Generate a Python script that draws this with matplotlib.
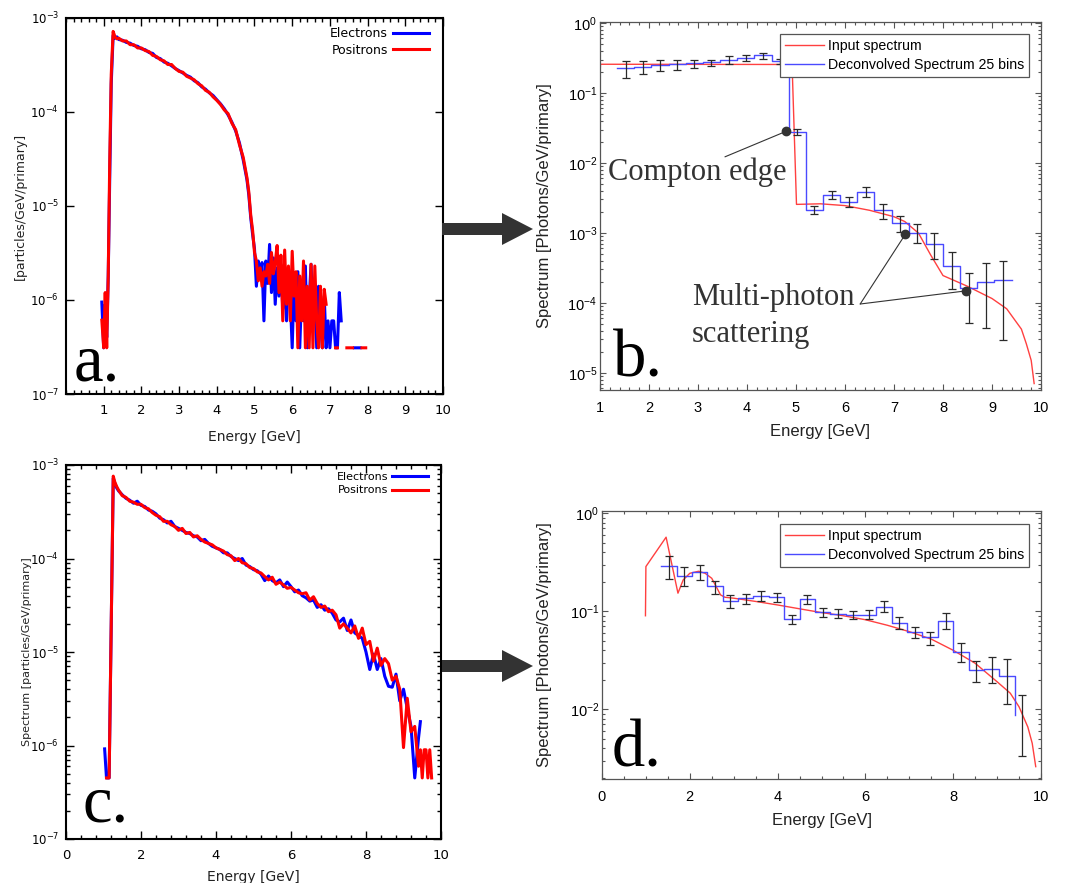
import matplotlib.pyplot as plt
import numpy as np
from matplotlib.patches import FancyArrow
from matplotlib.ticker import LogLocator, MultipleLocator, NullFormatter, NullLocator

nan = np.nan

# ---------------- a. e-/e+ spectra (first case)
a_energy = [0.95, 1.00, 1.04, 1.08, 1.12, 1.16, 1.20, 1.25, 1.30, 1.35,
            1.40, 1.5, 1.6, 1.7, 1.8, 1.9, 2.0, 2.1, 2.2, 2.3,
            2.4, 2.5, 2.6, 2.7, 2.8, 2.9, 3.0, 3.1, 3.2, 3.3,
            3.4, 3.5, 3.6, 3.7, 3.8, 3.9, 4.0, 4.1, 4.2, 4.3,
            4.4, 4.5, 4.6, 4.7, 4.8, 4.85, 4.9, 4.95, 5.00, 5.05,
            5.10, 5.15, 5.20, 5.25, 5.30, 5.35, 5.40, 5.45, 5.50, 5.55,
            5.60, 5.65, 5.70, 5.75, 5.80, 5.85, 5.90, 5.95, 6.00, 6.05,
            6.10, 6.15, 6.20, 6.25, 6.30, 6.35, 6.40, 6.45, 6.50, 6.55,
            6.60, 6.65, 6.70, 6.75, 6.80, 6.85, 6.90, 6.95, 7.00, 7.05,
            7.10, 7.15, 7.20, 7.25, 7.30, 7.35, 7.40, 7.45, 7.50, 7.55,
            7.60, 7.65, 7.70, 7.75, 7.80, 7.85, 7.90, 7.95]
a_electrons = [9.5e-7, 3.1e-7, 9.0e-7, 4.0e-7, 1.8e-6, 2.0e-5, 2.0e-4, 6.5e-4, 6.1e-4, 6.3e-4,
               5.9e-4, 5.8e-4, 5.5e-4, 5.4e-4, 5.1e-4, 5.0e-4, 4.7e-4, 4.6e-4, 4.3e-4, 4.2e-4,
               3.8e-4, 3.7e-4, 3.4e-4, 3.3e-4, 3.1e-4, 2.9e-4, 2.75e-4, 2.6e-4, 2.45e-4, 2.35e-4,
               2.15e-4, 2.05e-4, 1.85e-4, 1.75e-4, 1.6e-4, 1.5e-4, 1.35e-4, 1.22e-4, 1.08e-4, 9.3e-5,
               7.8e-5, 6.3e-5, 4.7e-5, 3.1e-5, 1.9e-5, 1.3e-5, 7.5e-6, 5.0e-6, 3.5e-6, 1.4e-6,
               2.6e-6, 1.8e-6, 2.5e-6, 6e-7, 2.6e-6, 1.5e-6, 3.9e-6, 1.2e-6, 2.8e-6, 9e-7,
               2.2e-6, 1.1e-6, 2.4e-6, 8e-7, 1.8e-6, 6e-7, 2.0e-6, 1.0e-6, 3.1e-7, 1.6e-6,
               6e-7, 2.0e-6, 3.1e-7, 1.2e-6, 6e-7, 2.3e-6, 3.1e-7, 1.0e-6, 2.4e-6, 6e-7,
               1.2e-6, 3.1e-7, 1.4e-6, 6e-7, 3.1e-7, 1.1e-6, 3.1e-7, 6e-7, 3.1e-7, 6e-7,
               6e-7, 3.1e-7, 3.1e-7, 1.2e-6, 6e-7, nan, nan, nan, nan, nan,
               nan, 3.1e-7, 3.1e-7, 3.1e-7, 3.1e-7, nan, nan, nan]
a_positrons = [6.1e-7, 3.1e-7, 1.2e-6, 3.1e-7, 1.8e-6, 3.0e-5, 2.5e-4, 7.2e-4, 6.3e-4, 6.0e-4,
               6.1e-4, 5.7e-4, 5.7e-4, 5.2e-4, 5.2e-4, 4.8e-4, 4.8e-4, 4.5e-4, 4.4e-4, 4.0e-4,
               3.9e-4, 3.6e-4, 3.5e-4, 3.2e-4, 3.2e-4, 2.9e-4, 2.7e-4, 2.65e-4, 2.4e-4, 2.3e-4,
               2.2e-4, 2.0e-4, 1.9e-4, 1.7e-4, 1.62e-4, 1.45e-4, 1.33e-4, 1.2e-4, 1.05e-4, 9.6e-5,
               7.6e-5, 6.5e-5, 4.5e-5, 3.3e-5, 2.0e-5, 1.4e-5, 8.0e-6, 5.5e-6, 3.2e-6, 2.6e-6,
               1.6e-6, 2.2e-6, 1.4e-6, 2.0e-6, 1.8e-6, 2.4e-6, 1.5e-6, 3.2e-6, 1.9e-6, 2.5e-6,
               3.8e-6, 1.2e-6, 3.0e-6, 6e-7, 3.4e-6, 9e-7, 2.3e-6, 6e-7, 3.3e-6, 1.1e-6,
               2.0e-6, 3.1e-7, 1.8e-6, 6e-7, 2.6e-6, 3.1e-7, 1.4e-6, 3.1e-7, 2.4e-6, 3.1e-7,
               2.3e-6, 6e-7, 3.1e-7, 1.4e-6, 3.1e-7, 1.3e-6, 9e-7, nan, nan, nan,
               nan, 3.1e-7, 3.1e-7, nan, nan, nan, nan, 3.1e-7, 3.1e-7, 3.1e-7,
               3.1e-7, nan, nan, nan, nan, 3.1e-7, 3.1e-7, 3.1e-7]

# ---------------- c. e-/e+ spectra (second case)
c_energy = [1.03, 1.08, 1.15, 1.26, 1.30, 1.35, 1.40, 1.5, 1.6, 1.7,
            1.8, 1.9, 2.0, 2.1, 2.2, 2.3, 2.4, 2.5, 2.6, 2.7,
            2.8, 2.9, 3.0, 3.1, 3.2, 3.3, 3.4, 3.5, 3.6, 3.7,
            3.8, 3.9, 4.0, 4.1, 4.2, 4.3, 4.4, 4.5, 4.6, 4.7,
            4.8, 4.9, 5.0, 5.1, 5.2, 5.3, 5.4, 5.5, 5.6, 5.7,
            5.8, 5.9, 6.0, 6.1, 6.2, 6.3, 6.4, 6.5, 6.6, 6.7,
            6.8, 6.9, 7.0, 7.1, 7.2, 7.3, 7.4, 7.5, 7.6, 7.7,
            7.8, 7.9, 8.0, 8.1, 8.2, 8.3, 8.4, 8.5, 8.6, 8.7,
            8.8, 8.9, 9.0, 9.1, 9.2, 9.3, 9.4, 9.45, 9.5, 9.55,
            9.6, 9.65, 9.7, 9.75]
c_electrons = [9.2e-7, 4.5e-7, 4.5e-7, 7.2e-4, 6.4e-4, 5.7e-4, 5.3e-4, 4.8e-4, 4.4e-4, 4.2e-4,
               3.9e-4, 4.1e-4, 3.7e-4, 3.6e-4, 3.3e-4, 3.2e-4, 3.0e-4, 2.7e-4, 2.6e-4, 2.4e-4,
               2.5e-4, 2.2e-4, 2.1e-4, 2.0e-4, 1.9e-4, 1.85e-4, 1.75e-4, 1.7e-4, 1.55e-4, 1.6e-4,
               1.45e-4, 1.35e-4, 1.3e-4, 1.25e-4, 1.15e-4, 1.15e-4, 1.05e-4, 1.0e-4, 9.5e-5, 1.0e-4,
               8.5e-5, 8.2e-5, 7.6e-5, 7.4e-5, 6.8e-5, 5.8e-5, 6.5e-5, 5.8e-5, 5.5e-5, 5.9e-5,
               5.0e-5, 5.6e-5, 5.0e-5, 4.4e-5, 4.6e-5, 4.0e-5, 3.8e-5, 3.5e-5, 3.6e-5, 3.0e-5,
               3.2e-5, 2.8e-5, 2.9e-5, 2.6e-5, 2.2e-5, 2.1e-5, 2.3e-5, 1.7e-5, 2.2e-5, 1.6e-5,
               1.5e-5, 1.4e-5, 1.0e-5, 6.5e-6, 9.5e-6, 6.5e-6, 8.5e-6, 5.5e-6, 4.3e-6, 4.2e-6,
               5.8e-6, 3.0e-6, 4.0e-6, 2.5e-6, 1.6e-6, 4.5e-7, 1.2e-6, 1.8e-6, nan, nan,
               nan, nan, nan, nan]
c_positrons = [nan, 4.5e-7, 4.5e-7, 7.6e-4, 6.6e-4, 5.9e-4, 5.4e-4, 4.7e-4, 4.5e-4, 4.1e-4,
               4.0e-4, 3.8e-4, 3.8e-4, 3.5e-4, 3.4e-4, 3.1e-4, 2.9e-4, 2.8e-4, 2.5e-4, 2.5e-4,
               2.3e-4, 2.2e-4, 2.0e-4, 2.1e-4, 1.85e-4, 1.9e-4, 1.7e-4, 1.75e-4, 1.6e-4, 1.5e-4,
               1.45e-4, 1.4e-4, 1.3e-4, 1.25e-4, 1.2e-4, 1.1e-4, 1.07e-4, 9.5e-5, 1.0e-4, 9.0e-5,
               8.8e-5, 8.0e-5, 7.8e-5, 7.2e-5, 7.0e-5, 6.4e-5, 5.9e-5, 6.3e-5, 5.3e-5, 5.6e-5,
               5.2e-5, 4.8e-5, 4.9e-5, 4.6e-5, 4.3e-5, 4.2e-5, 4.3e-5, 3.6e-5, 3.9e-5, 3.3e-5,
               3.0e-5, 3.1e-5, 2.7e-5, 2.8e-5, 2.5e-5, 1.8e-5, 2.0e-5, 1.8e-5, 1.6e-5, 1.9e-5,
               1.4e-5, 1.8e-5, 1.2e-5, 1.3e-5, 8.0e-6, 1.1e-5, 7.2e-6, 8.5e-6, 7.5e-6, 5.0e-6,
               5.5e-6, 4.0e-6, 9.5e-7, 3.2e-6, 1.4e-6, 1.6e-6, 6e-7, 9e-7, 4.5e-7, 9e-7,
               9e-7, 4.5e-7, 9e-7, 4.5e-7]

# ---------------- b. photon spectrum, input vs deconvolved
bin_edges = np.linspace(1.35, 9.75, 25)   # 0.35 GeV bins
bin_centers = (bin_edges[:-1] + bin_edges[1:]) / 2

b_input_energy = [1.0, 1.01, 4.92, 5.01, 5.5, 6.0, 6.5, 7.0, 7.22, 7.5,
                  7.75, 8.0, 8.5, 9.0, 9.3, 9.6, 9.7, 9.8, 9.86]
b_input = [0.17, 0.257, 0.255, 2.55e-3, 2.6e-3, 2.45e-3, 2.1e-3, 1.7e-3, 1.45e-3, 9.9e-4,
           4.8e-4, 2.45e-4, 1.72e-4, 1.15e-4, 8.2e-5, 4.2e-5, 2.6e-5, 1.5e-5, 7e-6]
b_deconv = [0.23, 0.235, 0.254, 0.257, 0.268, 0.275, 0.30, 0.32, 0.345, 0.287,
            0.0277, 2.1e-3, 3.5e-3, 2.8e-3, 3.8e-3, 2.1e-3, 1.38e-3, 1.0e-3, 6.9e-4, 3.4e-4,
            1.6e-4, 2.0e-4, 2.1e-4]
b_err_high = [0.283, 0.283, 0.293, 0.293, 0.299, 0.299, 0.334, 0.353, 0.373, 0.309,
              0.0309, 2.4e-3, 4.0e-3, 3.27e-3, 4.54e-3, 2.62e-3, 1.75e-3, 1.33e-3, 9.8e-4, 5.25e-4,
              2.63e-4, 3.65e-4, 3.98e-4]
b_err_low = [0.166, 0.185, 0.206, 0.216, 0.230, 0.240, 0.257, 0.283, 0.309, 0.262,
             0.0248, 1.85e-3, 3.03e-3, 2.35e-3, 3.2e-3, 1.6e-3, 1.03e-3, 7.05e-4, 4.17e-4, 1.57e-4,
             5.2e-5, 4.4e-5, 2.9e-5]
b_marks_energy = [4.8, 7.23, 8.47]
b_marks = [0.0283, 9.5e-4, 1.48e-4]

# ---------------- d. photon spectrum, second case
d_input_energy = [0.99, 1.0, 1.46, 1.73, 1.85, 2.0, 2.2, 2.35, 2.5, 2.6,
                  2.7, 2.8, 3.0, 3.5, 4.0, 4.5, 5.0, 5.5, 6.0, 6.5,
                  7.0, 7.5, 8.0, 8.5, 9.0, 9.3, 9.5, 9.7, 9.8, 9.88]
d_input = [0.09, 0.286, 0.57, 0.153, 0.209, 0.244, 0.256, 0.244, 0.217, 0.179,
           0.147, 0.139, 0.136, 0.126, 0.116, 0.106, 0.097, 0.090, 0.082, 0.072,
           0.062, 0.052, 0.040, 0.0295, 0.0191, 0.0146, 0.0106, 0.0066, 0.0045, 0.0026]
d_deconv = [0.29, 0.231, 0.252, 0.179, 0.127, 0.136, 0.143, 0.139, 0.0835, 0.132,
            0.0993, 0.094, 0.0925, 0.0925, 0.1115, 0.0766, 0.0615, 0.0543, 0.0803, 0.0388,
            0.0252, 0.026, 0.0219]
d_deconv_end = 0.0087
d_bar_mid = d_deconv + [0.0069]
d_err_high = [0.367, 0.281, 0.297, 0.206, 0.145, 0.150, 0.161, 0.153, 0.0925, 0.146,
              0.107, 0.105, 0.1016, 0.103, 0.1265, 0.0875, 0.0698, 0.0615, 0.0955, 0.0471,
              0.0314, 0.034, 0.0327, 0.014]
d_err_low = [0.212, 0.181, 0.209, 0.150, 0.107, 0.119, 0.126, 0.123, 0.0743, 0.119,
             0.0883, 0.0855, 0.0841, 0.0828, 0.0984, 0.0665, 0.053, 0.045, 0.066, 0.0302,
             0.0192, 0.0184, 0.0113, 0.00337]

W, H = 1072, 883
fig = plt.figure(figsize=(W / 100, H / 100), dpi=100)


def axes_px(left, top, right, bottom):
    return fig.add_axes([left / W, 1 - bottom / H, (right - left) / W, (bottom - top) / H])


def sup_labels(exps):
    return [r'$\mathregular{10^{%d}}$' % e for e in exps]


GP = 'DejaVu Sans'
ML = 'Liberation Sans'
SERIF = 'Liberation Serif'


def gnuplot_style(ax, xticks, xlabels, xminor, ylabel, ylab_x, ylab_size, xlab_y, yminor):
    ax.set_yscale('log')
    ax.set_xlim(0, 10)
    ax.set_ylim(1e-7, 1e-3)
    ax.set_xticks(xticks, xlabels, fontsize=9.5, family=GP)
    ax.xaxis.set_minor_locator(MultipleLocator(xminor))
    ax.set_yticks([1e-7, 1e-6, 1e-5, 1e-4, 1e-3], sup_labels([-7, -6, -5, -4, -3]),
                  fontsize=8.5, family=GP)
    if yminor:
        ax.yaxis.set_minor_locator(LogLocator(subs=np.arange(2, 10)))
        ax.yaxis.set_minor_formatter(NullFormatter())
    else:
        ax.yaxis.set_minor_locator(NullLocator())
    ax.tick_params(which='both', direction='in', top=True, right=True, color='black')
    ax.tick_params(which='major', length=6, width=1)
    ax.tick_params(which='minor', length=3, width=1)
    ax.tick_params(axis='x', pad=7)
    ax.tick_params(axis='y', pad=5)
    for s in ax.spines.values():
        s.set_linewidth(1.5)
        s.set_color('black')
    ax.set_xlabel('Energy [GeV]', fontsize=10, family=GP, color='#222222')
    ax.xaxis.set_label_coords(0.5, xlab_y)
    ax.xaxis.label.set_va('center')
    ax.set_ylabel(ylabel, fontsize=ylab_size, family=GP, color='#222222')
    ax.yaxis.set_label_coords(ylab_x, 0.5)
    ax.yaxis.label.set_va('center')


def matlab_style(ax, xlim, xticks, xminor, ylim, yexps, ylab_x, xlab_y):
    ax.set_yscale('log')
    ax.set_xlim(*xlim)
    ax.set_ylim(*ylim)
    ax.set_xticks(xticks, [str(t) for t in xticks], fontsize=10.5, family=ML)
    ax.xaxis.set_minor_locator(MultipleLocator(xminor))
    ax.set_yticks([10.0 ** e for e in yexps], sup_labels(yexps), fontsize=10.5, family=ML)
    ax.yaxis.set_minor_locator(LogLocator(subs=np.arange(2, 10)))
    ax.yaxis.set_minor_formatter(NullFormatter())
    ax.tick_params(which='both', direction='in', top=True, right=True, color='#555555')
    ax.tick_params(which='major', length=4, width=0.8)
    ax.tick_params(which='minor', length=2, width=0.8)
    ax.tick_params(axis='x', pad=8)
    ax.tick_params(axis='y', pad=2)
    for s in ax.spines.values():
        s.set_linewidth(0.9)
        s.set_color('#555555')
    ax.set_xlabel('Energy [GeV]', fontsize=12, family=ML, color='#222222')
    ax.xaxis.set_label_coords(0.5, xlab_y)
    ax.xaxis.label.set_va('center')
    ax.set_ylabel('Spectrum [Photons/GeV/primary]', fontsize=12, family=ML, color='#222222')
    ax.yaxis.set_label_coords(ylab_x, 0.5)
    ax.yaxis.label.set_va('center')


def gnuplot_legend(ax, anchor, size, hlen):
    ax.legend(loc='upper right', bbox_to_anchor=anchor, frameon=False, markerfirst=False,
              prop={'family': GP, 'size': size}, handlelength=hlen, handletextpad=0.4,
              borderpad=0, borderaxespad=0, labelspacing=0.3)


def matlab_legend(ax, anchor):
    leg = ax.legend(loc='upper right', bbox_to_anchor=anchor, fancybox=False,
                    prop={'family': ML, 'size': 10.2}, handlelength=2.7, handletextpad=0.3,
                    borderpad=0.35, borderaxespad=0, labelspacing=0.35, framealpha=1)
    leg.get_frame().set_edgecolor('#555555')
    leg.get_frame().set_linewidth(0.9)


def panel_letter(ax, x, y, letter):
    ax.text(x, y, letter, transform=ax.transAxes, fontsize=48, family=SERIF,
            va='baseline', ha='left', color='black')


# ---- a
ax_a = axes_px(66, 18, 443, 394)
ax_a.plot(a_energy, a_electrons, color='#0000ff', lw=2.2, label='Electrons')
ax_a.plot(a_energy, a_positrons, color='#ff0000', lw=2.2, label='Positrons')
gnuplot_style(ax_a, list(range(1, 11)), [str(t) for t in range(1, 11)], 0.2,
              '[particles/GeV/primary]', -0.122, 9, -0.114, False)
gnuplot_legend(ax_a, (0.963, 0.976), 9, 2.9)
panel_letter(ax_a, 0.019, 0.037, 'a.')

# ---- c
ax_c = axes_px(66, 465, 441, 839)
ax_c.plot(c_energy, c_electrons, color='#0000ff', lw=2.2, label='Electrons')
ax_c.plot(c_energy, c_positrons, color='#ff0000', lw=2.2, label='Positrons')
gnuplot_style(ax_c, [0, 2, 4, 6, 8, 10], ['0', '2', '4', '6', '8', '10'], 0.4,
              'Spectrum [particles/GeV/primary]', -0.104, 8, -0.102, True)
gnuplot_legend(ax_c, (0.965, 0.981), 8, 3.2)
panel_letter(ax_c, 0.043, 0.048, 'c.')

# ---- b
ax_b = axes_px(600, 22, 1041, 390)
ax_b.plot(b_input_energy, b_input, color='#ff4040', lw=1.0, label='Input spectrum')
ax_b.step(bin_edges[:24], b_deconv + [b_deconv[-1]], where='post', color='#4a4aff', lw=1.0,
          label='Deconvolved Spectrum 25 bins')
b_mid = np.array(b_deconv)
ax_b.errorbar(bin_centers[:23], b_mid,
              yerr=[b_mid - np.array(b_err_low), np.array(b_err_high) - b_mid],
              fmt='none', ecolor='#2a2a2a', elinewidth=0.9, capsize=3, capthick=0.9)
matlab_style(ax_b, (1, 10), list(range(1, 11)), 0.2, (10 ** -5.247, 10 ** 0.014),
             [-5, -4, -3, -2, -1, 0], -0.125, -0.114)
matlab_legend(ax_b, (0.973, 0.967))
ax_b.plot(b_marks_energy, b_marks, 'o', color='#333333', ms=6, zorder=5)
ax_b.annotate('', xy=(b_marks_energy[0], b_marks[0]), xytext=(3.55, 0.0122),
              arrowprops=dict(arrowstyle='-', color='#333333', lw=0.8, shrinkA=0, shrinkB=0))
for xm, ym in zip(b_marks_energy[1:], b_marks[1:]):
    ax_b.annotate('', xy=(xm, ym), xytext=(6.31, 9.6e-5),
                  arrowprops=dict(arrowstyle='-', color='#333333', lw=0.8, shrinkA=0, shrinkB=0))
ax_b.text(0.018, 0.571, 'Compton edge', transform=ax_b.transAxes, fontsize=22,
          family=SERIF, color='#333333', va='baseline')
ax_b.text(0.209, 0.231, 'Multi-photon', transform=ax_b.transAxes, fontsize=22,
          family=SERIF, color='#333333', va='baseline')
ax_b.text(0.209, 0.130, 'scattering', transform=ax_b.transAxes, fontsize=22,
          family=SERIF, color='#333333', va='baseline')
panel_letter(ax_b, 0.029, 0.038, 'b.')

# ---- d
ax_d = axes_px(602, 511, 1041, 779)
ax_d.plot(d_input_energy, d_input, color='#ff4040', lw=1.0, label='Input spectrum')
ax_d.step(bin_edges[:24], d_deconv + [d_deconv_end], where='post', color='#4a4aff', lw=1.0,
          label='Deconvolved Spectrum 25 bins')
d_mid = np.array(d_bar_mid)
ax_d.errorbar(bin_centers, d_mid,
              yerr=[d_mid - np.array(d_err_low), np.array(d_err_high) - d_mid],
              fmt='none', ecolor='#2a2a2a', elinewidth=0.9, capsize=3, capthick=0.9)
matlab_style(ax_d, (0, 10), [0, 2, 4, 6, 8, 10], 0.5, (10 ** -2.711, 10 ** 0.023),
             [-2, -1, 0], -0.13, -0.153)
matlab_legend(ax_d, (0.973, 0.951))
panel_letter(ax_d, 0.023, 0.045, 'd.')

# ---- arrows between panels (pixel overlay)
overlay = fig.add_axes([0, 0, 1, 1])
overlay.set_xlim(0, W)
overlay.set_ylim(H, 0)
overlay.axis('off')
for yc in (229, 666):
    overlay.add_patch(FancyArrow(442, yc, 91, 0, width=12, head_width=32, head_length=31,
                                 length_includes_head=True, color='#333333', lw=0))

fig.savefig('out.png', dpi=100, facecolor='white')
